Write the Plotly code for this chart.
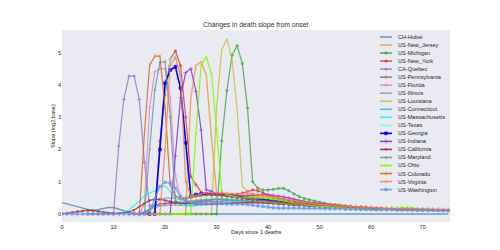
import plotly.graph_objects as go

# ---------------- data ----------------
names = ["CH-Hubei", "US-New_Jersey", "US-Michigan", "US-New_York", "CA-Quebec",
         "US-Pennsylvania", "US-Florida", "US-Illinois", "US-Louisiana", "US-Connecticut",
         "US-Massachusetts", "US-Texas", "US-Georgia", "US-Indiana", "US-California",
         "US-Maryland", "US-Ohio", "US-Colorado", "US-Virginia", "US-Washington"]

x_ticks = [0, 10, 20, 30, 40, 50, 60, 70]
y_ticks = [0, 1, 2, 3, 4, 5]

hubei_start = 0
hubei = [0.35, 0.31, 0.26, 0.21, 0.17, 0.14, 0.12, 0.13, 0.17, 0.20,
         0.20, 0.16, 0.10, 0.05, 0.02, 0.01, 0.0, 0.0, 0.0, 0.0,
         0.0, 0.0, 0.0, 0.0, 0.0, 0.0, 0.0, 0.0, 0.0, 0.0,
         0.0, 0.0, 0.0, 0.0, 0.0, 0.0, 0.0, 0.0, 0.0, 0.0,
         0.0, 0.0, 0.0, 0.0, 0.0, 0.0, 0.0, 0.0, 0.0, 0.0,
         0.0, 0.0, 0.0, 0.0, 0.0, 0.0, 0.0, 0.0, 0.0, 0.0,
         0.0, 0.0, 0.0, 0.0, 0.0, 0.0, 0.0, 0.0, 0.0, 0.0,
         0.0, 0.0, 0.0, 0.0, 0.0, 0.0]

new_jersey_start = 20
new_jersey = [0.0, 0.0, 0.0, 0.0, 0.0, 3.6, 4.6, 4.72, 4.3, 2.4,
              0.65, 0.62, 0.6, 0.58, 0.57, 0.56, 0.55, 0.55, 0.54, 0.52,
              0.5, 0.48, 0.45, 0.42, 0.4, 0.38, 0.36, 0.34, 0.32, 0.3,
              0.28, 0.27, 0.26, 0.25, 0.24, 0.23, 0.22, 0.21, 0.2, 0.19,
              0.18, 0.17, 0.17, 0.16, 0.16, 0.15]

michigan_start = 24
michigan = [0.0, 0.0, 0.0, 0.0, 0.0, 0.0, 0.0, 2.26, 3.82, 4.92,
            5.21, 4.66, 3.28, 1.0, 0.8, 0.74, 0.74, 0.76, 0.79, 0.79,
            0.72, 0.62, 0.54, 0.48, 0.44, 0.4, 0.36, 0.33, 0.3, 0.28,
            0.26, 0.24, 0.22, 0.2, 0.19, 0.18, 0.17, 0.16, 0.15]

new_york_start = 15
new_york = [0.0, 0.0, 0.0, 0.0, 2.26, 3.7, 4.8, 5.05, 4.6, 3.0,
            1.15, 0.9, 0.68, 0.62, 0.6, 0.6, 0.58, 0.57, 0.58, 0.6,
            0.65, 0.7, 0.74, 0.72, 0.65, 0.58, 0.52, 0.48, 0.45, 0.42,
            0.4, 0.37, 0.35, 0.33, 0.31, 0.29, 0.27, 0.25, 0.24, 0.23,
            0.22, 0.21, 0.2, 0.19, 0.18, 0.17, 0.16, 0.16, 0.15, 0.15, 0.14]

quebec_start = 5
quebec = [0.0, 0.0, 0.0, 0.0, 0.0, 0.0, 2.1, 3.55, 4.27, 4.27,
          3.55, 1.6, 0.25, 0.28, 0.3, 0.32, 0.33, 0.33, 0.32, 0.32,
          0.33, 0.35, 0.37, 0.38, 0.38, 0.37, 0.36, 0.35, 0.34, 0.34,
          0.34, 0.35, 0.36, 0.36, 0.35, 0.34, 0.33, 0.32, 0.3, 0.29,
          0.28, 0.27, 0.26, 0.25, 0.24, 0.23, 0.22, 0.21, 0.2, 0.19,
          0.18, 0.18, 0.17, 0.17, 0.16, 0.16, 0.15, 0.15, 0.14, 0.14,
          0.13, 0.13, 0.13, 0.12, 0.12, 0.12]

pennsylvania_start = 14
pennsylvania = [0.0, 0.0, 0.05, 0.15, 0.25, 0.3, 0.33, 0.35, 0.36, 0.36,
                0.35, 0.36, 0.38, 0.4, 0.42, 0.44, 0.45, 0.46, 0.46, 0.45,
                0.44, 0.43, 0.42, 0.41, 0.4, 0.38, 0.36, 0.34, 0.32, 0.3,
                0.29, 0.28, 0.27, 0.26, 0.25, 0.24, 0.23, 0.22, 0.21, 0.2,
                0.19, 0.18, 0.18, 0.17, 0.17, 0.16, 0.16]

florida_start = 14
florida = [0.0, 0.0, 0.3, 3.3, 4.4, 4.5, 4.5, 3.6, 1.2, 0.45,
           0.4, 0.4, 0.42, 0.44, 0.45, 0.45, 0.44, 0.43, 0.42, 0.41,
           0.4, 0.39, 0.38, 0.37, 0.36, 0.35, 0.34, 0.32, 0.3, 0.29,
           0.28, 0.27, 0.26, 0.25, 0.24, 0.23, 0.22, 0.21, 0.2, 0.2,
           0.19, 0.18, 0.18, 0.17, 0.17, 0.16, 0.16]

illinois_start = 14
illinois = [0.0, 0.02, 0.08, 0.15, 0.2, 0.24, 0.26, 0.27, 0.27, 0.26,
            0.25, 0.25, 0.27, 0.3, 0.33, 0.36, 0.38, 0.4, 0.42, 0.43,
            0.43, 0.42, 0.41, 0.4, 0.39, 0.38, 0.37, 0.36, 0.35, 0.34,
            0.33, 0.31, 0.3, 0.28, 0.27, 0.26, 0.25, 0.24, 0.23, 0.22,
            0.21, 0.2, 0.19, 0.18, 0.18, 0.17, 0.17, 0.16, 0.16]

louisiana_start = 25
louisiana = [0.0, 0.0, 0.0, 0.0, 0.0, 3.3, 5.1, 5.42, 4.8, 3.2,
             0.85, 0.7, 0.62, 0.58, 0.55, 0.52, 0.5, 0.48, 0.46, 0.44,
             0.42, 0.4, 0.38, 0.36, 0.34, 0.33, 0.32, 0.32, 0.32, 0.3,
             0.26, 0.22, 0.2, 0.18, 0.17, 0.16]

connecticut_start = 16
connecticut = [0.0, 0.1, 0.3, 0.45, 0.5, 0.5, 0.48, 0.45, 0.45, 0.5,
               0.55, 0.6, 0.62, 0.62, 0.6, 0.58, 0.56, 0.55, 0.54, 0.53,
               0.52, 0.5, 0.48, 0.46, 0.44, 0.42, 0.4, 0.38, 0.36, 0.34,
               0.32, 0.3, 0.29, 0.28, 0.27, 0.26, 0.25, 0.24, 0.23, 0.22,
               0.21, 0.2, 0.19, 0.18, 0.17]

massachusetts_start = 10
massachusetts = [0.0, 0.02, 0.05, 0.12, 0.25, 0.4, 0.55, 0.65, 0.72, 0.82,
                 0.87, 0.7, 0.45, 0.3, 0.25, 0.24, 0.25, 0.27, 0.28, 0.3,
                 0.32, 0.34, 0.36, 0.38, 0.4, 0.41, 0.42, 0.42, 0.41, 0.4,
                 0.38, 0.36, 0.34, 0.32, 0.3, 0.28, 0.27, 0.26, 0.25, 0.24,
                 0.23, 0.22, 0.21, 0.2, 0.19, 0.18, 0.18, 0.17, 0.17, 0.16, 0.16]

texas_start = 17
texas = [0.0, 0.0, 2.0, 3.8, 4.8, 4.9, 4.2, 1.5, 0.6, 0.55,
         0.53, 0.52, 0.5, 0.5, 0.49, 0.48, 0.47, 0.46, 0.45, 0.44,
         0.43, 0.42, 0.41, 0.4, 0.38, 0.36, 0.34, 0.32, 0.3, 0.29,
         0.28, 0.27, 0.26, 0.25, 0.24, 0.23, 0.22, 0.21, 0.2, 0.19,
         0.18, 0.17]

georgia_start = 17
georgia = [0.0, 0.0, 2.0, 4.05, 4.46, 4.56, 3.9, 2.2, 0.55, 0.6,
           0.62, 0.62, 0.62, 0.61, 0.6, 0.58, 0.56, 0.53, 0.5, 0.48,
           0.46, 0.45, 0.44, 0.43, 0.41, 0.39, 0.37, 0.35, 0.33, 0.31,
           0.3, 0.28, 0.27, 0.26, 0.25, 0.24, 0.23, 0.22, 0.21, 0.2,
           0.19, 0.18, 0.17, 0.16, 0.15]

indiana_start = 19
indiana = [0.0, 0.0, 0.0, 1.8, 3.6, 4.38, 4.5, 3.8, 2.6, 0.75,
           0.7, 0.62, 0.58, 0.56, 0.55, 0.55, 0.56, 0.57, 0.58, 0.6,
           0.6, 0.6, 0.58, 0.56, 0.54, 0.5, 0.46, 0.42, 0.39, 0.36,
           0.34, 0.32, 0.3, 0.28, 0.27, 0.25, 0.24, 0.23, 0.22, 0.21,
           0.2, 0.19, 0.18]

california_start = 0
california = [0.0, 0.02, 0.05, 0.08, 0.1, 0.11, 0.1, 0.08, 0.05, 0.03,
              0.02, 0.02, 0.03, 0.06, 0.12, 0.22, 0.33, 0.42, 0.45, 0.45,
              0.42, 0.38, 0.35, 0.33, 0.32, 0.31, 0.3, 0.3, 0.3, 0.3,
              0.3, 0.31, 0.32, 0.33, 0.34, 0.35, 0.36, 0.36, 0.35, 0.34,
              0.33, 0.32, 0.3, 0.29, 0.28, 0.27, 0.26, 0.25, 0.24, 0.23,
              0.22, 0.21, 0.2, 0.2, 0.19, 0.18, 0.18, 0.17, 0.17, 0.16,
              0.16, 0.15, 0.15, 0.14, 0.14, 0.14, 0.13, 0.13, 0.13, 0.12,
              0.12, 0.12, 0.11, 0.11, 0.11, 0.1]

maryland_start = 15
maryland = [0.0, 0.0, 2.0, 3.84, 4.7, 4.72, 3.0, 0.4, 0.35, 0.36,
            0.38, 0.4, 0.42, 0.44, 0.45, 0.46, 0.46, 0.45, 0.44, 0.43,
            0.42, 0.41, 0.4, 0.39, 0.38, 0.36, 0.34, 0.32, 0.3, 0.29,
            0.28, 0.27, 0.26, 0.25, 0.24, 0.23, 0.22, 0.21, 0.2, 0.19,
            0.18, 0.18, 0.17, 0.17, 0.16, 0.16]

ohio_start = 17
ohio = [0.0, 0.0, 0.0, 0.0, 0.0, 0.0, 0.0, 0.0, 0.0, 2.5,
        4.6, 4.87, 4.35, 2.6, 0.7, 0.6, 0.55, 0.52, 0.5, 0.5,
        0.5, 0.52, 0.5, 0.48, 0.45, 0.42, 0.4, 0.37, 0.35, 0.33,
        0.3, 0.28, 0.26, 0.24, 0.22, 0.2, 0.19, 0.18, 0.17, 0.16,
        0.15, 0.14, 0.14, 0.13, 0.13, 0.13, 0.14, 0.16, 0.18, 0.2,
        0.2, 0.19, 0.16, 0.13, 0.12]

colorado_start = 13
colorado = [0.0, 0.0, 0.0, 2.5, 4.6, 4.89, 4.89, 3.3, 0.9, 0.55,
            0.5, 0.5, 0.52, 0.55, 0.58, 0.6, 0.6, 0.58, 0.56, 0.54,
            0.52, 0.5, 0.48, 0.46, 0.44, 0.42, 0.4, 0.38, 0.36, 0.35,
            0.34, 0.33, 0.32, 0.31, 0.3, 0.29, 0.28, 0.27, 0.26, 0.25,
            0.24, 0.23, 0.22, 0.21, 0.2, 0.2, 0.19, 0.19, 0.18, 0.18,
            0.17, 0.17, 0.16, 0.16, 0.15, 0.15, 0.15, 0.14, 0.14, 0.14,
            0.14, 0.13, 0.13]

virginia_start = 17
virginia = [0.0, 0.0, 0.0, 2.0, 4.6, 4.85, 4.3, 1.0, 0.55, 0.58,
            0.62, 0.65, 0.66, 0.66, 0.65, 0.64, 0.63, 0.62, 0.62, 0.62,
            0.62, 0.6, 0.58, 0.56, 0.53, 0.5, 0.47, 0.44, 0.41, 0.38,
            0.36, 0.34, 0.32, 0.3, 0.28, 0.27, 0.26, 0.25, 0.24, 0.23,
            0.22, 0.21, 0.2, 0.19, 0.18, 0.18, 0.17, 0.17, 0.16, 0.16,
            0.16, 0.15, 0.15, 0.15, 0.15, 0.14, 0.14, 0.14, 0.14]

washington_start = 0
washington = [0.0, 0.0, 0.0, 0.0, 0.0, 0.0, 0.0, 0.0, 0.0, 0.0,
              0.0, 0.0, 0.0, 0.0, 0.0, 0.0, 0.0, 0.1, 0.45, 0.85,
              0.98, 0.96, 0.8, 0.55, 0.42, 0.36, 0.33, 0.32, 0.32, 0.32,
              0.32, 0.32, 0.31, 0.3, 0.3, 0.3, 0.29, 0.27, 0.25, 0.23,
              0.21, 0.19, 0.18, 0.18, 0.18, 0.18, 0.18, 0.17, 0.17, 0.17,
              0.17, 0.16, 0.16, 0.16, 0.16, 0.15, 0.15, 0.15, 0.14, 0.14,
              0.14, 0.13, 0.13, 0.13, 0.13, 0.12, 0.12, 0.12, 0.12, 0.11,
              0.11, 0.11, 0.11, 0.1, 0.1, 0.1]

series_values = [hubei, new_jersey, michigan, new_york, quebec, pennsylvania, florida,
                 illinois, louisiana, connecticut, massachusetts, texas, georgia, indiana,
                 california, maryland, ohio, colorado, virginia, washington]
series_starts = [hubei_start, new_jersey_start, michigan_start, new_york_start, quebec_start,
                 pennsylvania_start, florida_start, illinois_start, louisiana_start,
                 connecticut_start, massachusetts_start, texas_start, georgia_start,
                 indiana_start, california_start, maryland_start, ohio_start,
                 colorado_start, virginia_start, washington_start]

# ---------------- styles ----------------
colors = ["#1f77b4", "#ff7f0e", "#2ca02c", "#d62728", "#9467bd", "#8c564b", "#e377c2",
          "#7f7f7f", "#bcbd22", "#17becf", "#00ffff", "#7fffd4", "#0000ff", "#8a2be2",
          "#b22222", "#5f9ea0", "#7fff00", "#d2691e", "#ff7f50", "#6495ed"]
symbols = [None, None, "circle", "square", "diamond", "line-ns", "cross-thin", None, None, None,
           None, "triangle-up", "square", "cross-thin", "triangle-down", "triangle-left",
           "x-thin", "line-ns", "cross-thin", "x"]
msizes = [0, 0, 2.4, 2.0, 2.2, 3.0, 3.0, 0, 0, 0,
          0, 2.2, 2.8, 3.0, 2.2, 2.2, 3.0, 3.0, 3.0, 2.8]
opacities = [0.65, 0.65, 0.75, 0.75, 0.75, 0.75, 0.75, 0.65, 0.75, 0.75,
             0.85, 0.8, 1.0, 0.85, 0.85, 0.85, 0.9, 0.85, 0.85, 0.85]
widths = [1.4, 1.4, 1.2, 1.2, 1.2, 1.2, 1.2, 1.2, 1.2, 1.2,
          1.2, 1.2, 1.6, 1.2, 1.2, 1.2, 1.2, 1.2, 1.2, 1.2]

fig = go.Figure()

for name, start, vals, col, sym, ms, op, w in zip(names, series_starts, series_values,
                                                   colors, symbols, msizes, opacities, widths):
    xs = list(range(start, start + len(vals)))
    mode = "lines+markers" if sym else "lines"
    marker = dict(symbol=sym or "circle", size=ms, color=col,
                  line=dict(color=col, width=0.6))
    fig.add_trace(go.Scatter(x=xs, y=vals, mode=mode, name=name, opacity=op,
                             line=dict(color=col, width=w), marker=marker,
                             showlegend=False, cliponaxis=True))

# manual legend on a pixel-mapped overlay axis pair
L_LEFT, L_RIGHT, P_TOP, P_BOT = 62, 450, 30, 222
for i, (name, col, sym, ms, op) in enumerate(zip(names, colors, symbols, msizes, opacities)):
    yy = 37 + 8.03 * i
    fig.add_trace(go.Scatter(x=[380, 392], y=[yy, yy], mode="lines", opacity=op,
                             line=dict(color=col, width=1.6), xaxis="x2", yaxis="y2",
                             showlegend=False, hoverinfo="skip"))
    if sym:
        fig.add_trace(go.Scatter(x=[386], y=[yy], mode="markers", opacity=op,
                                 marker=dict(symbol=sym, size=ms, color=col,
                                             line=dict(color=col, width=0.6)),
                                 xaxis="x2", yaxis="y2", showlegend=False, hoverinfo="skip"))
    fig.add_annotation(x=396, y=yy, xref="x2", yref="y2", text=name, showarrow=False,
                       xanchor="left", yanchor="middle",
                       font=dict(size=5.6, color="#262626", family="Liberation Sans, Arial"))

# titles in paper coordinates (outside the plot area)
def px_x(p):
    return (p - L_LEFT) / (L_RIGHT - L_LEFT)

def px_y(p):
    return (P_BOT - p) / (P_BOT - P_TOP)

fig.add_annotation(x=px_x(256), y=px_y(232), xref="paper", yref="paper",
                   text="Days since 1 deaths", showarrow=False,
                   xanchor="center", yanchor="middle",
                   font=dict(size=5.6, color="#262626", family="Liberation Sans, Arial"))
fig.add_annotation(x=px_x(53), y=px_y(126), xref="paper", yref="paper",
                   text="Slope (log2 base)", showarrow=False, textangle=-90,
                   xanchor="center", yanchor="middle",
                   font=dict(size=5.6, color="#262626", family="Liberation Sans, Arial"))
fig.add_annotation(x=px_x(256), y=px_y(25), xref="paper", yref="paper",
                   text="Changes in death slope from onset", showarrow=False,
                   xanchor="center", yanchor="middle",
                   font=dict(size=6.8, color="#333333", family="Liberation Sans, Arial"))

fig.update_layout(
    width=500, height=250,
    margin=dict(l=L_LEFT, r=500 - L_RIGHT, t=P_TOP, b=250 - P_BOT),
    paper_bgcolor="white", plot_bgcolor="#eaeaf2",
    font=dict(family="Liberation Sans, Arial", color="#262626"),
    showlegend=False,
    xaxis=dict(range=[0, 75.3], tickvals=x_ticks, showgrid=False, zeroline=False,
               ticks="", tickfont=dict(size=5.6, color="#262626"), showline=False),
    yaxis=dict(range=[-0.25, 5.7], tickvals=y_ticks, showgrid=False, zeroline=False,
               ticks="", tickfont=dict(size=5.6, color="#262626"), showline=False),
    xaxis2=dict(range=[L_LEFT, L_RIGHT], overlaying="x", visible=False, fixedrange=True),
    yaxis2=dict(range=[P_BOT, P_TOP], overlaying="y", visible=False, fixedrange=True),
)

fig.write_html("out.html")
